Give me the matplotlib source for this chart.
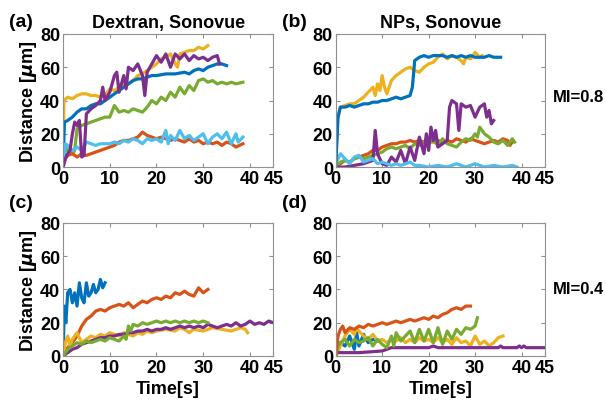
import matplotlib
matplotlib.use("Agg")
import matplotlib.pyplot as plt

plt.rcParams['font.family'] = ['Liberation Sans', 'DejaVu Sans']
plt.rcParams['font.weight'] = 'bold'
plt.rcParams['mathtext.default'] = 'it'

# cores padrao do MATLAB
azul = "#0072BD"
laranja = "#D95319"
amarelo = "#EDB120"
roxo = "#7E2F8E"
verde = "#77AC30"
ciano = "#4DBEEE"

# (a) Dextran, Sonovue, MI=0.8
a_azul_t = [0, 0.3, 1, 2, 3, 4, 5, 6, 7, 8, 9, 10, 11, 12, 13, 14, 15, 16, 17, 18, 19, 20, 22, 24, 26, 27, 28, 29, 30, 31, 32, 33, 34, 35]
a_azul_y = [0, 27, 28, 30, 33, 35, 35, 37, 38, 38, 40, 42, 44, 46, 48, 50, 52, 53, 53, 54, 55, 55, 56, 56, 57, 56, 58, 59, 58, 60, 61, 62, 62, 61]
a_amar_t = [0, 0.2, 1, 2, 3, 4, 5, 6, 7, 8, 9, 10, 11, 12, 13, 14, 15, 16, 17, 18, 19, 20, 21, 22, 23, 24, 24.5, 25, 26, 27, 28, 29, 30, 31]
a_amar_y = [0, 40, 42, 41, 43, 44, 44, 43, 43, 42, 43, 47, 46, 48, 49, 50, 52, 55, 56, 58, 60, 62, 65, 66, 68, 62, 60, 68, 69, 70, 70, 72, 71, 73]
a_roxo_t = [0, 0.5, 1, 1.5, 2, 2.5, 3, 3.5, 4, 4.5, 5, 6, 7, 8, 8.5, 9, 10, 11, 11.5, 12, 13, 13.5, 14, 15, 16, 17, 17.5, 18, 19, 20, 21, 22, 23, 24, 25, 26, 27, 28, 29, 30, 31, 32, 33, 33.5]
a_roxo_y = [0, 5, 8, 10, 20, 27, 25, 28, 6, 7, 32, 35, 37, 40, 48, 40, 45, 55, 57, 45, 55, 47, 60, 58, 62, 55, 43, 57, 62, 67, 63, 68, 60, 68, 65, 68, 64, 67, 65, 66, 64, 66, 67, 62]
a_verde_t = [0, 0.5, 1, 2, 2.5, 3, 4, 5, 6, 7, 8, 9, 10, 11, 12, 13, 14, 15, 16, 17, 18, 19, 20, 21, 22, 23, 24, 25, 26, 27, 28, 29, 30, 31, 32, 33, 34, 35, 36, 37, 38.5]
a_verde_y = [0, 12, 10, 8, 10, 23, 25, 26, 27, 28, 29, 30, 30, 37, 33, 34, 33, 35, 34, 33, 36, 40, 38, 42, 40, 45, 42, 48, 44, 49, 46, 52, 53, 51, 52, 50, 51, 50, 51, 50, 51]
a_lar_t = [0, 0.5, 1, 2, 3, 4, 5, 6, 7, 8, 9, 10, 11, 12, 13, 14, 15, 16, 17, 18, 19, 20, 21, 22, 23, 24, 25, 26, 27, 28, 29, 30, 31, 32, 33, 34, 35, 36, 37, 38.5]
a_lar_y = [0, 5, 7, 8, 6, 8, 7, 8, 9, 10, 11, 12, 13, 15, 16, 16, 17, 18, 21, 19, 18, 17, 18, 17, 16, 17, 16, 15, 17, 15, 16, 14, 15, 14, 15, 13, 15, 14, 12, 14]
a_ciano_t = [0, 0.5, 1, 2, 3, 4, 5, 6, 7, 8, 10, 11, 12, 13, 14, 15, 16, 17, 18, 19, 20, 21, 22, 22.5, 23, 24, 25, 26, 27, 28, 29, 30, 31, 32, 33, 34, 35, 36, 37, 37.5, 38.5]
a_ciano_y = [0, 14, 13, 10, 12, 10, 15, 14, 13, 14, 14, 15, 14, 16, 15, 17, 16, 14, 17, 16, 17, 15, 22, 14, 19, 16, 22, 17, 19, 16, 18, 20, 14, 18, 20, 17, 21, 14, 20, 15, 18]

# (b) NPs, Sonovue, MI=0.8
b_azul_t = [0, 0.5, 1, 2, 3, 4, 5, 6, 7, 8, 9, 10, 11, 12, 13, 14, 15, 16, 16.5, 17, 18, 19, 20, 21, 22, 23, 24, 25, 26, 27, 28, 29, 30, 31, 32, 33, 34, 35.5]
b_azul_y = [0, 30, 36, 36, 37, 36, 37, 38, 38, 39, 39, 40, 40, 41, 42, 41, 42, 43, 48, 64, 66, 67, 66, 67, 67, 67, 66, 67, 66, 67, 66, 67, 66, 66, 66, 67, 66, 66]
b_amar_t = [0, 0.3, 1, 2, 3, 4, 5, 6, 7, 8, 8.5, 9, 9.5, 10, 10.5, 11, 12, 13, 14, 15, 16, 17, 18, 19, 20, 21, 22, 23, 24, 25, 26, 27, 27.5, 28, 29, 30, 31, 31.5]
b_amar_y = [0, 28, 36, 37, 38, 38, 40, 42, 45, 48, 43, 50, 46, 55, 48, 44, 52, 55, 57, 59, 60, 58, 57, 60, 62, 63, 66, 68, 65, 67, 66, 64, 62, 66, 65, 69, 66, 67]
b_roxo_t = [0, 2, 4, 6, 7, 8, 8.5, 9, 10, 11, 12, 13, 14, 15, 16, 17, 18, 19, 19.5, 20, 20.5, 21, 21.5, 22, 23, 24, 24.5, 25, 26, 26.5, 27, 28, 29, 30, 31, 32, 32.5, 33, 33.5, 34]
b_roxo_y = [0, 0, 1, 2, 3, 4, 22, 8, 2, 1, 6, 3, 10, 2, 12, 4, 18, 8, 20, 10, 24, 16, 22, 12, 14, 16, 36, 40, 38, 22, 38, 36, 37, 30, 36, 38, 30, 34, 26, 28]
b_lar_t = [0, 1, 2, 3, 4, 5, 6, 7, 8, 9, 10, 11, 12, 13, 14, 15, 16, 17, 18, 19, 20, 21, 22, 23, 24, 25, 26, 27, 28, 29, 30, 31, 32, 33, 34, 35, 36, 37, 37.5, 38]
b_lar_y = [0, 2, 4, 3, 5, 6, 7, 8, 10, 10, 12, 13, 14, 14, 15, 15, 16, 15, 16, 15, 16, 15, 16, 15, 16, 15, 17, 16, 15, 17, 16, 15, 14, 15, 16, 15, 17, 16, 13, 15]
b_verde_t = [0, 1, 2, 3, 4, 5, 6, 7, 8, 9, 10, 11, 12, 13, 14, 15, 16, 17, 18, 19, 20, 21, 22, 23, 24, 25, 26, 27, 28, 29, 30, 30.5, 31, 32, 33, 34, 35, 36, 37, 38, 38.5]
b_verde_y = [0, 3, 4, 3, 5, 6, 5, 6, 7, 8, 9, 11, 12, 11, 12, 13, 11, 14, 13, 15, 14, 16, 13, 17, 14, 13, 12, 15, 17, 16, 20, 18, 24, 20, 18, 15, 14, 16, 13, 17, 15]
b_ciano_t = [0, 1, 2, 3, 4, 5, 6, 7, 8, 9, 10, 11, 12, 13, 14, 15, 16, 17, 18, 20, 22, 24, 26, 28, 30, 32, 34, 36, 38, 39]
b_ciano_y = [2, 8, 5, 2, 6, 7, 3, 4, 5, 2, 3, 2, 1, 2, 1, 2, 3, 1, 1, 0, 1, 0, 2, 0, 2, 0, 1, 0, 1, 0]

# (c) Dextran, Sonovue, MI=0.4
c_azul_t = [0, 0.3, 0.6, 1, 1.5, 2, 2.5, 3, 3.5, 4, 4.5, 5, 5.5, 6, 6.5, 7, 7.5, 8, 8.5, 9]
c_azul_y = [0, 30, 20, 38, 40, 32, 38, 30, 44, 35, 32, 44, 36, 38, 43, 38, 40, 46, 41, 44]
c_lar_t = [0, 1, 2, 3, 4, 5, 6, 7, 8, 9, 10, 11, 12, 13, 14, 15, 16, 17, 18, 19, 20, 21, 22, 23, 24, 25, 26, 27, 28, 29, 30, 31]
c_lar_y = [0, 5, 8, 12, 18, 22, 24, 27, 28, 27, 29, 30, 31, 30, 32, 29, 31, 33, 32, 34, 35, 34, 36, 35, 38, 37, 39, 37, 36, 41, 38, 40]
c_amar_t = [0, 0.5, 1, 1.5, 2, 3, 4, 5, 6, 7, 8, 9, 10, 11, 12, 13, 14, 15, 16, 17, 18, 19, 20, 22, 24, 25, 26, 27, 28, 30, 32, 34, 36, 38, 39, 39.5]
c_amar_y = [0, 8, 12, 6, 10, 14, 8, 10, 12, 11, 13, 12, 14, 13, 12, 14, 13, 12, 14, 13, 15, 14, 15, 16, 15, 17, 16, 14, 16, 15, 17, 16, 15, 17, 16, 14]
c_roxo_t = [0, 1, 2, 3, 4, 5, 6, 7, 8, 9, 10, 11, 12, 13, 14, 15, 16, 17, 18, 19, 20, 21, 22, 23, 24, 25, 26, 27, 28, 29, 30, 31, 32, 33, 34, 35, 36, 37, 38, 39, 40, 41, 42, 43, 44, 45]
c_roxo_y = [0, 2, 4, 5, 7, 8, 9, 10, 11, 11, 12, 12, 13, 13, 14, 14, 15, 15, 16, 15, 16, 16, 17, 16, 17, 18, 17, 18, 17, 18, 17, 19, 18, 17, 18, 19, 18, 20, 18, 19, 21, 19, 20, 19, 21, 20]
c_verde_t = [0, 1, 2, 3, 4, 5, 6, 7, 8, 9, 10, 11, 12, 13, 13.5, 14, 14.5, 15, 16, 17, 18, 19, 20, 21, 22, 23, 24, 25, 26, 27, 28, 29, 30, 31]
c_verde_y = [0, 4, 6, 8, 7, 9, 8, 9, 10, 9, 11, 10, 9, 12, 10, 18, 15, 19, 18, 20, 19, 20, 21, 20, 21, 20, 21, 20, 21, 20, 21, 20, 21, 20]

# (d) NPs, Sonovue, MI=0.4
d_lar_t = [0, 0.5, 1, 1.5, 2, 3, 4, 5, 6, 7, 8, 9, 10, 11, 12, 13, 14, 15, 16, 17, 18, 19, 20, 21, 22, 23, 24, 25, 26, 27, 28, 29]
d_lar_y = [0, 12, 16, 18, 14, 17, 16, 18, 17, 19, 18, 19, 20, 19, 20, 21, 20, 21, 22, 21, 22, 23, 22, 24, 23, 25, 26, 28, 29, 28, 30, 30]
d_verde_t = [0, 0.5, 1, 2, 3, 4, 5, 6, 7, 8, 9, 10, 11, 12, 12.5, 13, 14, 15, 16, 17, 18, 19, 20, 21, 22, 23, 24, 25, 26, 27, 28, 29, 30, 30.5]
d_verde_y = [0, 6, 8, 10, 6, 10, 8, 9, 11, 6, 10, 7, 5, 12, 6, 14, 9, 12, 15, 8, 16, 9, 16, 8, 17, 7, 15, 10, 16, 13, 17, 16, 18, 23]
d_amar_t = [0, 1, 2, 3, 4, 4.5, 5, 6, 7, 8, 9, 10, 11, 12, 13, 14, 15, 16, 17, 18, 19, 20, 21, 22, 23, 24, 25, 26, 27, 28, 29, 30, 31, 32, 33, 34, 35, 36]
d_amar_y = [0, 6, 12, 16, 13, 17, 15, 12, 10, 13, 9, 10, 8, 10, 9, 11, 8, 10, 8, 11, 9, 10, 8, 11, 8, 10, 7, 11, 8, 9, 6, 12, 7, 9, 6, 8, 11, 12]
d_azul_t = [0, 1, 2, 3, 4, 4.5, 5, 6, 7, 8, 9]
d_azul_y = [0, 8, 6, 12, 4, 14, 6, 13, 8, 10, 9]
d_roxo_t = [0, 5, 10, 11, 12, 20, 21, 22, 35, 35.5, 36, 39, 39.5, 40, 40.5, 41, 45]
d_roxo_y = [2, 2, 3, 4, 5, 5, 6, 5, 5, 6, 5, 5, 6, 5, 6, 5, 5]

paineis = [
    [(a_amar_t, a_amar_y, amarelo), (a_azul_t, a_azul_y, azul), (a_verde_t, a_verde_y, verde),
     (a_lar_t, a_lar_y, laranja), (a_ciano_t, a_ciano_y, ciano), (a_roxo_t, a_roxo_y, roxo)],
    [(b_lar_t, b_lar_y, laranja), (b_verde_t, b_verde_y, verde), (b_roxo_t, b_roxo_y, roxo),
     (b_ciano_t, b_ciano_y, ciano), (b_amar_t, b_amar_y, amarelo), (b_azul_t, b_azul_y, azul)],
    [(c_azul_t, c_azul_y, azul), (c_lar_t, c_lar_y, laranja), (c_amar_t, c_amar_y, amarelo),
     (c_roxo_t, c_roxo_y, roxo), (c_verde_t, c_verde_y, verde)],
    [(d_azul_t, d_azul_y, azul), (d_amar_t, d_amar_y, amarelo), (d_roxo_t, d_roxo_y, roxo),
     (d_verde_t, d_verde_y, verde), (d_lar_t, d_lar_y, laranja)],
]

fig = plt.figure(figsize=(6.06, 4.02), dpi=100)
posicoes = [
    [0.104, 0.582, 0.347, 0.331],
    [0.554, 0.582, 0.345, 0.331],
    [0.104, 0.112, 0.347, 0.331],
    [0.554, 0.112, 0.345, 0.331],
]
titulos = ["Dextran, Sonovue", "NPs, Sonovue", None, None]
fs = 13

for i, series in enumerate(paineis):
    ax = fig.add_axes(posicoes[i])
    for t, y, cor in series:
        ax.plot(t, y, color=cor, linewidth=2.3)
    ax.set_xlim(0, 45)
    ax.set_ylim(0, 80)
    ax.set_xticks([0, 10, 20, 30, 40, 45])
    ax.set_yticks([0, 20, 40, 60, 80])
    ax.tick_params(direction="in", top=True, right=True, length=3,
                   labelsize=fs, color="#909090", pad=2)
    for lab in ax.get_xticklabels() + ax.get_yticklabels():
        lab.set_fontweight("bold")
    for s in ax.spines.values():
        s.set_color("#909090")
        s.set_linewidth(0.8)
    if titulos[i]:
        ax.set_title(titulos[i], fontsize=fs, fontweight="bold", pad=5)
    if i in (0, 2):
        ax.set_ylabel("Distance [$\\mu$m]", fontsize=fs, fontweight="bold", labelpad=1)
    if i in (2, 3):
        ax.set_xlabel("Time[s]", fontsize=fs, fontweight="bold", labelpad=3)

fig.text(0.015, 0.945, "(a)", fontsize=14, fontweight="bold", va="center")
fig.text(0.466, 0.945, "(b)", fontsize=14, fontweight="bold", va="center")
fig.text(0.015, 0.495, "(c)", fontsize=14, fontweight="bold", va="center")
fig.text(0.466, 0.495, "(d)", fontsize=14, fontweight="bold", va="center")
fig.text(0.912, 0.757, "MI=0.8", fontsize=12, fontweight="bold", va="center")
fig.text(0.912, 0.279, "MI=0.4", fontsize=12, fontweight="bold", va="center")

fig.savefig("out.png", dpi=100)
